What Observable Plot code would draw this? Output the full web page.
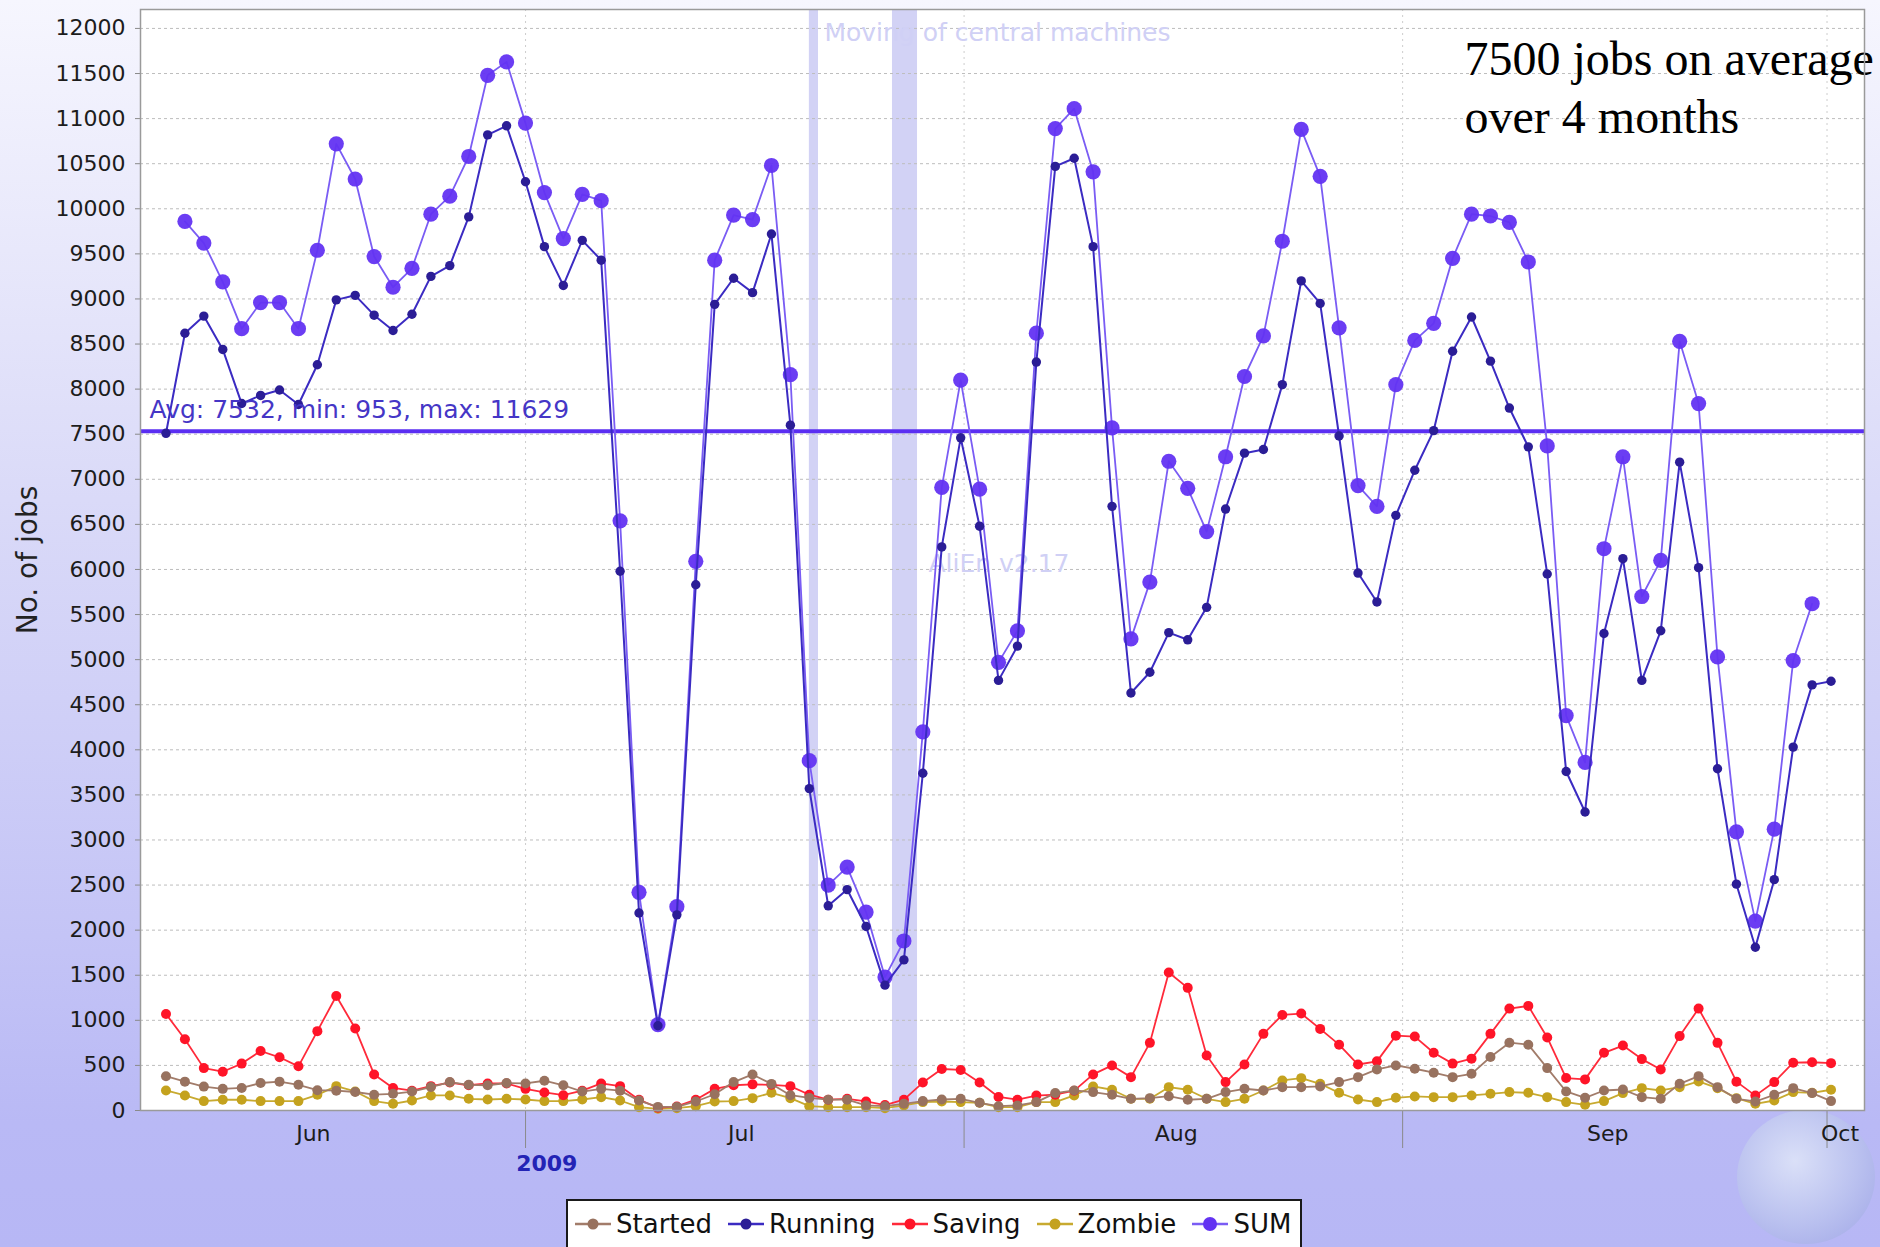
<!DOCTYPE html>
<html>
<head>
<meta charset="utf-8">
<script src="https://cdn.jsdelivr.net/npm/d3@7"></script>
<script src="https://cdn.jsdelivr.net/npm/@observablehq/plot@0.6"></script>
<style>
  html, body { margin: 0; padding: 0; }
  #page {
    position: relative; width: 1880px; height: 1247px; overflow: hidden;
    background: linear-gradient(to bottom, #f6f6fe 0%, #dadaf8 40%, #c4c4f6 75%, #b9b9f5 90%, #b7b7f5 100%);
    font-family: "DejaVu Sans", sans-serif;
  }
  #globe {
    position: absolute; left: 1737px; top: 1110px; width: 138px; height: 134px; border-radius: 50%;
    background: radial-gradient(circle at 42% 38%, rgba(220,226,248,0.95) 0%, rgba(186,194,238,0.85) 55%, rgba(152,160,226,0.8) 100%);
  }
  #chart { position: absolute; left: 0; top: 0; }
  #legend {
    position: absolute; left: 566px; top: 1199px; width: 732px; height: 46px;
    border: 2px solid #1a1a1a; background: #fff; display: flex; align-items: center;
    box-sizing: content-box; padding-left: 0; font: 26px "DejaVu Sans", sans-serif; color: #111;
  }
  #legend .item { display: flex; align-items: center; margin-left: 7px; margin-right: 9px; }
  #legend .item svg { margin-right: 5px; }
</style>
</head>
<body>
<div id="page">
  <div id="globe"></div>
  <div id="chart"></div>
  <div id="legend"></div>
</div>
<script>
// ---- data (one value per sample, sampled every ~32 hours from 5 Jun 2009) ----
const running = [7510, 8620, 8810, 8440, 7840, 7930, 7990, 7830, 8270, 8990,
  9040, 8820, 8650, 8830, 9250, 9370, 9910, 10820, 10920, 10300,
  9580, 9150, 9650, 9430, 5980, 2190, 940, 2170, 5830, 8940,
  9230, 9070, 9720, 7600, 3570, 2270, 2450, 2040, 1390, 1670,
  3740, 6250, 7460, 6480, 4770, 5150, 8300, 10470, 10560, 9580,
  6700, 4630, 4860, 5300, 5220, 5580, 6670, 7290, 7330, 8050,
  9200, 8950, 7480, 5960, 5640, 6600, 7100, 7540, 8420, 8800,
  8310, 7790, 7360, 5950, 3760, 3310, 5290, 6120, 4770, 5320,
  7190, 6020, 3790, 2510, 1810, 2560, 4030, 4720, 4760];

const sum = [null, 9860, 9620, 9190, 8670, 8960, 8960, 8670, 9540, 10720,
  10330, 9470, 9130, 9340, 9940, 10140, 10580, 11480, 11629, 10950,
  10180, 9670, 10160, 10090, 6540, 2420, 953, 2260, 6090, 9430,
  9930, 9880, 10480, 8160, 3880, 2500, 2700, 2200, 1480, 1880,
  4200, 6910, 8100, 6890, 4970, 5320, 8620, 10890, 11110, 10410,
  7570, 5230, 5860, 7200, 6900, 6420, 7250, 8140, 8590, 9640,
  10880, 10360, 8680, 6930, 6700, 8050, 8540, 8730, 9450, 9940,
  9920, 9850, 9410, 7370, 4380, 3860, 6230, 7250, 5700, 6100,
  8530, 7840, 5030, 3090, 2100, 3120, 4990, 5620, null];

const saving = [1070, 790, 470, 430, 520, 660, 590, 490, 880, 1270,
  910, 400, 250, 220, 270, 310, 280, 300, 300, 240,
  200, 170, 220, 300, 270, 120, 30, 45, 120, 240,
  280, 290, 285, 270, 175, 120, 130, 100, 60, 120,
  310, 460, 450, 310, 150, 120, 165, 175, 220, 400,
  500, 370, 750, 1530, 1360, 610, 315, 510, 850, 1060,
  1075, 905, 730, 510, 545, 830, 820, 640, 520, 575,
  850, 1130, 1160, 810, 360, 345, 640, 720, 570, 455,
  825, 1130, 750, 320, 165, 315, 530, 535, 525];

const started = [380, 320, 265, 240, 250, 305, 320, 285, 225, 220,
  205, 175, 185, 210, 260, 315, 285, 280, 305, 300,
  330, 280, 210, 240, 220, 110, 40, 40, 100, 180,
  315, 400, 295, 170, 140, 120, 120, 56, 48, 74,
  104, 122, 130, 85, 48, 56, 93, 193, 222, 204,
  174, 130, 137, 159, 119, 130, 204, 241, 222, 259,
  259, 267, 315, 370, 456, 500, 463, 419, 370, 407,
  593, 752, 730, 470, 211, 141, 222, 233, 148, 130,
  296, 381, 259, 130, 100, 174, 248, 193, 104];

const zombie = [222, 167, 104, 119, 119, 104, 104, 104, 174, 270,
  211, 104, 74, 111, 167, 167, 130, 122, 130, 122,
  104, 104, 122, 148, 111, 37, 19, 26, 48, 100,
  104, 137, 196, 137, 48, 37, 37, 37, 26, 56,
  93, 100, 93, 85, 37, 37, 93, 93, 167, 267,
  230, 130, 130, 259, 230, 130, 93, 130, 222, 333,
  359, 296, 196, 122, 93, 141, 156, 148, 148, 167,
  185, 204, 196, 148, 93, 63, 104, 193, 248, 222,
  259, 322, 248, 137, 74, 111, 204, 196, 230];

const seriesNames = ["Started", "Running", "Saving", "Zombie", "SUM"];
const dotColors  = ["#98725f", "#2b1d96", "#ff1428", "#c4a21e", "#6333f2"];
const lineColors = ["#a27c6a", "#3b2bc2", "#ff2a3a", "#c8aa30", "#7a5cf4"];

const yTicks = d3.range(0, 12001, 500);
const monthStarts = ["2009-07-01T00:00Z", "2009-08-01T00:00Z", "2009-09-01T00:00Z", "2009-10-01T00:00Z"];
const monthLabels = ["Jun", "Jul", "Aug", "Sep", "Oct"];
const monthLabelDates = ["2009-06-16T00:00Z", "2009-07-16T06:00Z", "2009-08-16T00:00Z", "2009-09-15T12:00Z", "2009-10-01T22:00Z"];
const yearLabel = ["2009"];
const yearLabelDate = "2009-07-02T12:00Z";
const bandStarts = ["2009-07-21T01:30Z", "2009-07-26T22:30Z"];
const bandEnds   = ["2009-07-21T17:00Z", "2009-07-28T17:00Z"];
const eventLabels = ["Moving of central machines", "AliEn v2.17"];
const eventDates = ["2009-07-22T03:00Z", "2009-07-29T11:30Z"];
const eventValues = [11950, 6060];
const statValues = [7532, 953, 11629]; // avg, min, max of SUM
const noteLines = ["7500 jobs on average", "over 4 months"];
const noteDate = "2009-09-05T09:00Z";
const noteValue = 11365;

// ---- sampling times ----
const T0 = Date.UTC(2009, 5, 5, 14);
const STEP = 32.1 * 3600e3;
const times = running.map((_, i) => new Date(T0 + i * STEP));
const xDomain = [new Date("2009-06-03T18:45Z"), new Date("2009-10-03T15:35Z")];

const rows = arr => arr.map((v, i) => ({t: times[i], v})).filter(d => d.v != null);
const allSeries = [started, running, saving, zombie, sum];

const bands = bandStarts.map((s, i) => ({x1: new Date(s), x2: new Date(bandEnds[i])}));
const events = eventLabels.map((s, i) => ({text: s, t: new Date(eventDates[i]), v: eventValues[i]}));
const months = monthLabels.map((m, i) => ({text: m, t: new Date(monthLabelDates[i])}));

// drawing order: SUM at the bottom, Started on top
const order = [4, 3, 2, 1, 0];
const dotRadius = [5, 4.7, 5, 5, 7.6];
const seriesMarks = order.flatMap(k => {
  const data = rows(allSeries[k]);
  return [
    Plot.line(data, {x: "t", y: "v", stroke: lineColors[k], strokeWidth: k === 1 ? 2 : 1.8}),
    Plot.dot(data, {x: "t", y: "v", r: dotRadius[k], fill: dotColors[k], fillOpacity: k === 4 ? 0.95 : 1, stroke: "none"})
  ];
});

const chart = Plot.plot({
  width: 1880, height: 1195,
  marginLeft: 140, marginRight: 16, marginTop: 9, marginBottom: 85,
  style: {background: "transparent", fontFamily: "DejaVu Sans, sans-serif", fontSize: "22px", color: "#1c1c1c", overflow: "visible"},
  x: {type: "utc", domain: xDomain, axis: null, label: null},
  y: {domain: [0, 12210], axis: null, label: null},
  marks: [
    Plot.frame({fill: "white", stroke: null}),
    Plot.rect(bands, {x1: "x1", x2: "x2", fill: "#d2d2f5"}),
    Plot.gridY(yTicks.slice(1), {stroke: "#bdbdbd", strokeOpacity: 1, strokeDasharray: "3,3"}),
    Plot.gridX(monthStarts.map(d => new Date(d)), {stroke: "#cdcdcd", strokeOpacity: 1, strokeDasharray: "2,4"}),
    Plot.text(events, {x: "t", y: "v", text: "text", textAnchor: "start", fill: "#d0d0f5", fontSize: 25}),
    Plot.ruleY([statValues[0]], {stroke: "#5a2ef2", strokeWidth: 4}),
    ...seriesMarks,
    Plot.text([`Avg: ${statValues[0]}, min: ${statValues[1]}, max: ${statValues[2]}`], {
      frameAnchor: "left", y: () => statValues[0], dx: 9, dy: -21, textAnchor: "start", fill: "#4536c6", fontSize: 25
    }),
    Plot.text([noteLines.join("\n")], {
      x: () => new Date(noteDate), y: () => noteValue, textAnchor: "start", lineHeight: 1.19,
      fontFamily: "Liberation Serif, Times New Roman, serif", fontSize: 48, fill: "#000"
    }),
    Plot.axisY(yTicks, {tickSize: 5, tickPadding: 10, tickFormat: d => String(d), stroke: "#8a8a8a", fill: "#1c1c1c", fontSize: 22, label: null}),
    Plot.axisX(monthStarts.map(d => new Date(d)), {tickSize: 38, tickFormat: () => "", stroke: "#8a8a8a", label: null}),
    Plot.text(months, {x: "t", text: "text", frameAnchor: "bottom", dy: 30, fontSize: 22, fill: "#1c1c1c"}),
    Plot.text(yearLabel, {x: () => new Date(yearLabelDate), frameAnchor: "bottom", dy: 60, fontWeight: "bold", fill: "#2323b5", fontSize: 22}),
    Plot.text(["No. of jobs"], {frameAnchor: "left", dx: -112, rotate: -90, textAnchor: "middle", fontSize: 28, fill: "#222"}),
    Plot.frame({stroke: "#9a9a9a", strokeWidth: 1.5})
  ]
});
document.getElementById("chart").appendChild(chart);

// ---- legend ----
const legend = d3.select("#legend");
seriesNames.forEach((name, k) => {
  const item = legend.append("div").attr("class", "item");
  const svg = item.append("svg").attr("width", 36).attr("height", 22);
  svg.append("line").attr("x1", 0).attr("x2", 36).attr("y1", 11).attr("y2", 11)
    .attr("stroke", lineColors[k]).attr("stroke-width", 2.5);
  svg.append("circle").attr("cx", 18).attr("cy", 11).attr("r", k === 4 ? 7 : 5.5).attr("fill", dotColors[k]);
  item.append("span").text(name);
});
</script>
</body>
</html>
